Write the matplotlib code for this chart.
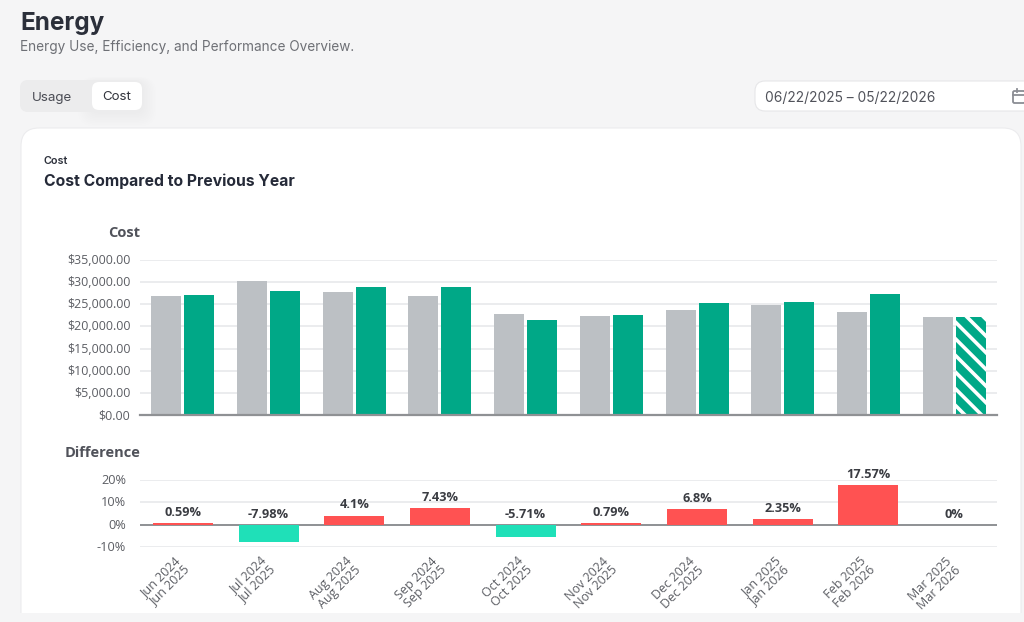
import matplotlib
matplotlib.use("Agg")
import matplotlib.pyplot as plt
from matplotlib.patches import FancyBboxPatch, Rectangle
from matplotlib.transforms import ScaledTranslation
import numpy as np

prev_labels = ["Jun 2024","Jul 2024","Aug 2024","Sep 2024","Oct 2024","Nov 2024","Dec 2024","Jan 2025","Feb 2025","Mar 2025"]
curr_labels = ["Jun 2025","Jul 2025","Aug 2025","Sep 2025","Oct 2025","Nov 2025","Dec 2025","Jan 2026","Feb 2026","Mar 2026"]
prev_cost = [26900,30300,27700,26900,22800,22400,23600,24900,23300,22200]
curr_cost = [27060,27900,28840,28900,21500,22580,25200,25500,27400,22200]
diff_pct = [0.59,-7.98,4.1,7.43,-5.71,0.79,6.8,2.35,17.57,0]
diff_text = ["0.59%","-7.98%","4.1%","7.43%","-5.71%","0.79%","6.8%","2.35%","17.57%","0%"]
cost_ticks = [0,5000,10000,15000,20000,25000,30000,35000]
diff_ticks = [-10,0,10,20]

W, H = 1024, 622
GRAY, GREEN, RED, TEAL = "#bcc0c4", "#00a887", "#ff5252", "#1fe0b8"
BODY = "Open Sans"
HEAD = "Inter"

plt.rcParams["hatch.linewidth"] = 2.6
fig = plt.figure(figsize=(W/100, H/100), dpi=100, facecolor="#f5f5f6")

bg = fig.add_axes([0, 0, 1, 1], zorder=0)
bg.set_xlim(0, W); bg.set_ylim(H, 0); bg.axis("off")

def box(x, y, w, h, r, fc, ec="none", lw=0, alpha=1, z=1):
    bg.add_patch(FancyBboxPatch((x+r, y+r), w-2*r, h-2*r, boxstyle=f"round,pad={r},rounding_size={r}",
                                fc=fc, ec=ec, lw=lw, alpha=alpha, zorder=z))

# soft shadow behind the toggle
for i in range(9, 0, -1):
    box(92-i*1.6, 82-i*0.6, 50+i*3.2, 30+i*2.2, 8+i, "#000000", alpha=0.0045, z=1)
box(20, 80, 122, 32, 8, "#ececed", z=2)
box(92, 82, 50, 28, 7, "#ffffff", z=3)
box(21, 128, 1000, 520, 18, "#ffffff", ec="#ececee", lw=0.8, z=1)
bg.add_patch(Rectangle((0, 613), W, 10, fc="#f5f5f6", ec="none", zorder=2))
box(755, 81, 300, 30, 10, "#ffffff", ec="#e6e6e8", lw=0.8, z=2)

bg.text(20, 23.5, "Energy", fontsize=17.5, fontweight="bold", family=HEAD, color="#2b2f3a", va="center", ha="left")
bg.text(20, 46.5, "Energy Use, Efficiency, and Performance Overview.", fontsize=9.8, family=HEAD, color="#6e7076", va="center", ha="left")
bg.text(32, 97.5, "Usage", fontsize=9.6, family=HEAD, color="#4a4c54", va="center", ha="left", zorder=5)
bg.text(102, 97, "Cost", fontsize=9.6, family=HEAD, color="#32343c", va="center", ha="left", zorder=5)
bg.text(765, 97.5, "06/22/2025 – 05/22/2026", fontsize=9.9, family=HEAD, color="#50525a", va="center", ha="left", zorder=5)
bg.text(44, 161, "Cost", fontsize=7.8, fontweight="semibold", family=HEAD, color="#2b2f3a", va="center", ha="left", zorder=5)
bg.text(44, 181.5, "Cost Compared to Previous Year", fontsize=11.3, fontweight="bold", family=HEAD, color="#252a38", va="center", ha="left", zorder=5)
bg.text(140, 233, "Cost", fontsize=10.5, fontweight="bold", family=BODY, color="#50525a", va="center", ha="right", zorder=5)
bg.text(140, 453, "Difference", fontsize=10.5, fontweight="bold", family=BODY, color="#50525a", va="center", ha="right", zorder=5)

# calendar icon
bg.add_patch(FancyBboxPatch((1013, 91), 12, 12, boxstyle="round,pad=0,rounding_size=1.5", fc="none", ec="#8b8d94", lw=1.3, zorder=5))
bg.plot([1013, 1025], [95, 95], color="#8b8d94", lw=1.3, zorder=5)
bg.plot([1016.5, 1016.5], [88.5, 92], color="#8b8d94", lw=1.3, zorder=5)

def ax_from_px(x0, x1, ytop, ybot):
    a = fig.add_axes([x0/W, 1-ybot/H, (x1-x0)/W, (ybot-ytop)/H], zorder=2)
    a.patch.set_alpha(0)
    for s in a.spines.values():
        s.set_visible(False)
    return a

def shift(labels, dx_px, dy_px):
    tr = ScaledTranslation(dx_px/100, dy_px/100, fig.dpi_scale_trans)
    for lab in labels:
        lab.set_transform(lab.get_transform() + tr)

x = np.arange(len(prev_cost))
ax = ax_from_px(140, 997, 260, 415)
ax.set_xlim(-0.5, 9.5); ax.set_ylim(0, 35000)
ax.set_yticks(cost_ticks)
ax.set_yticklabels([f"${v:,.2f}" for v in cost_ticks], fontsize=9, family=BODY, color="#5c5e64")
ax.tick_params(axis="y", length=0, pad=7)
shift(ax.get_yticklabels(), 0, 1)
ax.set_xticks([])
ax.grid(axis="y", color="#e6e7e9", lw=1.1)
ax.set_axisbelow(True)
bw = 30/85.7
off = 16.5/85.7
ax.bar(x-off, prev_cost, bw, color=GRAY, lw=0, zorder=2)
ax.bar(x[:-1]+off, curr_cost[:-1], bw, color=GREEN, lw=0, zorder=2)
ax.bar(x[-1:]+off, curr_cost[-1:], bw, color=GREEN, lw=0, zorder=2)
ax.bar(x[-1:]+off, curr_cost[-1:], bw, facecolor="none", edgecolor="white", hatch="\\\\", lw=0, zorder=3)
ax.axhline(0, color="#8f9194", lw=1.6, zorder=4, clip_on=False)

ax2 = ax_from_px(140, 997, 480, 547)
ax2.set_xlim(-0.5, 9.5); ax2.set_ylim(-10, 20)
ax2.set_yticks(diff_ticks)
ax2.set_yticklabels([f"{v}%" for v in diff_ticks], fontsize=9.2, family=BODY, color="#5c5e64")
ax2.tick_params(axis="y", length=0, pad=10)
shift(ax2.get_yticklabels(), 0, 1)
ax2.grid(axis="y", color="#e6e7e9", lw=1.1)
ax2.set_axisbelow(True)
ax2.axhline(0, color="#8f9194", lw=1.4, zorder=1.5)
ax2.bar(x, diff_pct, 60/85.7, color=[RED if v >= 0 else TEAL for v in diff_pct], lw=0, zorder=2)
for xi, v, t in zip(x, diff_pct, diff_text):
    ax2.annotate(t, (xi, max(v, 0)), xytext=(0, 3), textcoords="offset points", ha="center", va="bottom",
                 fontsize=9.2, fontweight="bold", family=BODY, color="#3a3c42", zorder=6, clip_on=False)
ax2.set_xticks(x)
ax2.set_xticklabels([f"{p}\n{c}" for p, c in zip(prev_labels, curr_labels)], rotation=45, ha="right",
                    rotation_mode="anchor", fontsize=9, family=BODY, color="#5c5e64", linespacing=0.95)
ax2.tick_params(axis="x", length=0, pad=4)
shift(ax2.get_xticklabels(), -9, -2)

fig.savefig("out.png", dpi=100, facecolor=fig.get_facecolor())
